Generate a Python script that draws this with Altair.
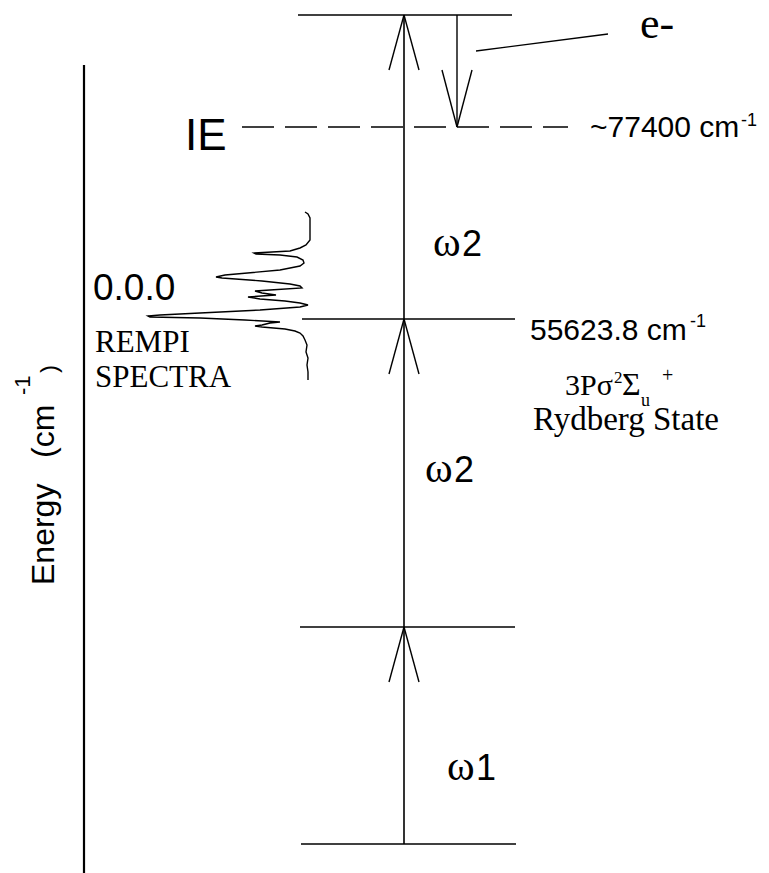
import altair as alt
import pandas as pd

W, H = 769, 873

# Energy levels in diagram coordinates (y grows downward from the top edge)
level_name = ["ground", "intermediate", "3Pσ Rydberg", "IE", "continuum"]
level_y = [844, 627, 319, 127, 15]
level_x0 = [301, 300, 302, 242, 298]
level_x1 = [516, 515, 515, 568, 512]
level_dashed = [False, False, False, True, False]

# Photon steps along the excitation column
photon_x = 404
photon_from = [844, 627, 319]
photon_to = [627, 319, 15]

# Ejected electron drop from the top level to the IE
electron_x = 457
electron_from = 15
electron_to = 127

# Open "V" arrowhead geometry
head_dx, head_dy = 15, 55

# Energy axis line
axis_x = 84
axis_top = 65

# Leader line from the electron arrow to its label
leader = [(476, 51, 608, 34)]

# REMPI spectrum trace: position along the energy axis and signal extent
spec_y = [212, 214, 218, 240, 245, 248, 251, 253, 254, 255, 257, 260, 263, 266,
          270, 275, 277, 278, 281, 284, 286, 288, 290, 291, 293, 295, 297, 299,
          301, 303, 305, 307, 310, 313, 315, 316, 317, 318, 320, 322, 323, 325,
          326, 327, 329, 331, 333, 336, 340, 345, 352, 358, 365, 372, 380]
spec_x = [305, 308, 310, 310, 306, 300, 290, 254, 256, 280, 297, 303, 304, 300,
          280, 225, 216, 222, 262, 290, 300, 302, 270, 255, 262, 276, 248, 260,
          285, 300, 308, 300, 260, 200, 160, 148, 150, 200, 245, 280, 270, 262,
          255, 262, 285, 295, 300, 303, 305, 307, 306, 308, 307, 308, 308]

# Photon labels: (digit, x of ω, baseline y)
photon_labels = [("2", 433, 256), ("2", 425, 482), ("1", 447, 780)]
omega_size, omega_digit_gap = 42, 29

# Text labels: (text, x, baseline y, size)
sans_labels = [
    ("IE", 185, 150, 44),
    ("~77400 cm", 590, 137, 30),
    ("-1", 741, 126, 18),
    ("55623.8 cm", 530, 340, 30),
    ("-1", 690, 327, 18),
    ("0.0.0", 93, 300, 37),
] + [(d, x + omega_digit_gap, y, 36) for d, x, y in photon_labels]

serif_labels = [
    ("e-", 640, 38, 44),
    ("REMPI", 95, 352, 31),
    ("SPECTRA", 95, 387, 31),
    ("3Pσ", 565, 395, 30),
    ("2", 614, 383, 17),
    ("Σ", 622, 395, 32),
    ("u", 641, 406, 18),
    ("+", 662, 382, 20),
    ("Rydberg State", 533, 430, 33),
] + [("ω", x, y, omega_size) for d, x, y in photon_labels]

axis_labels = [
    ("Energy", 54, 585, 32),
    ("(cm", 54, 458, 32),
    ("-1", 30, 395, 22),
    (")", 57, 373, 24),
]

xs = alt.Scale(domain=[0, W], nice=False, zero=False)
ys = alt.Scale(domain=[0, H], nice=False, zero=False, reverse=True)


def X(f):
    return alt.X(f, type="quantitative", scale=xs, axis=None)


def Y(f):
    return alt.Y(f, type="quantitative", scale=ys, axis=None)


levels = pd.DataFrame({"name": level_name, "y": level_y, "x0": level_x0,
                       "x1": level_x1, "dashed": level_dashed})

solid_levels = alt.Chart(levels[~levels.dashed]).mark_rule(
    color="black", strokeWidth=1.6).encode(x=X("x0"), x2="x1", y=Y("y"))
dashed_levels = alt.Chart(levels[levels.dashed]).mark_rule(
    color="black", strokeWidth=1.5, strokeDash=[32, 11]).encode(x=X("x0"), x2="x1", y=Y("y"))

# Vertical shafts: photon column, electron drop, energy axis
shafts = pd.DataFrame({
    "x": [photon_x, electron_x, axis_x],
    "y0": [max(photon_from), electron_from, axis_top],
    "y1": [min(photon_to), electron_to, H],
    "w": [1.6, 1.4, 2.2],
})
shaft_layer = alt.Chart(shafts).mark_rule(color="black").encode(
    x=X("x"), y=Y("y0"), y2="y1", strokeWidth=alt.StrokeWidth("w:Q", scale=None))

# Arrowhead arms: photon heads point up, electron head points down
arms = []
for tip in photon_to:
    for s in (-1, 1):
        arms.append({"x0": photon_x, "y0": tip, "x1": photon_x + s * head_dx, "y1": tip + head_dy})
for s in (-1, 1):
    arms.append({"x0": electron_x, "y0": electron_to,
                 "x1": electron_x + s * head_dx, "y1": electron_to - head_dy - 2})
for (a, b, c, d) in leader:
    arms.append({"x0": a, "y0": b, "x1": c, "y1": d})
arm_layer = alt.Chart(pd.DataFrame(arms)).mark_rule(color="black", strokeWidth=1.4).encode(
    x=X("x0"), y=Y("y0"), x2="x1", y2="y1")

spectrum = pd.DataFrame({"y": spec_y, "x": spec_x, "i": range(len(spec_y))})
spec_layer = alt.Chart(spectrum).mark_line(color="black", strokeWidth=1.4,
                                           interpolate="linear").encode(
    x=X("x"), y=Y("y"), order="i:Q")


def text_layer(rows, font, angle=0):
    df = pd.DataFrame(rows, columns=["t", "x", "y", "s"])
    return alt.Chart(df).mark_text(font=font, align="left", baseline="alphabetic",
                                   color="black", angle=angle).encode(
        x=X("x"), y=Y("y"), text="t:N", size=alt.Size("s:Q", scale=None))


chart = alt.layer(
    solid_levels, dashed_levels, shaft_layer, arm_layer, spec_layer,
    text_layer(sans_labels, "Liberation Sans"),
    text_layer(serif_labels, "Liberation Serif"),
    text_layer(axis_labels, "Liberation Sans", angle=270),
).properties(
    width=W, height=H, padding=0, background="white",
    autosize=alt.AutoSizeParams(type="none"),
).configure_view(stroke=None)

chart.save("out.html", embed_options={"renderer": "svg", "actions": False})
